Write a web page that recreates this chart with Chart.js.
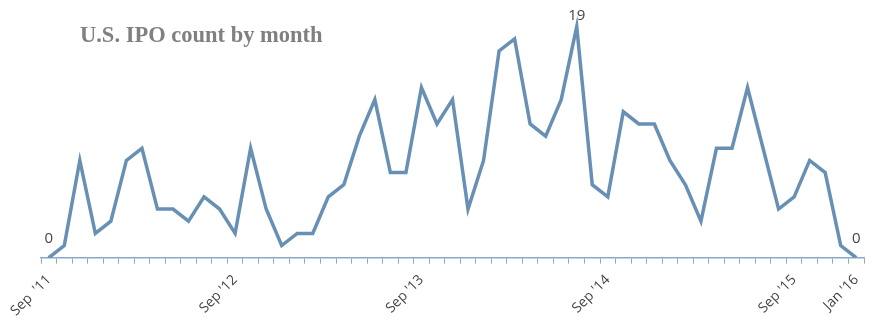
<!DOCTYPE html>
<html>
<head>
<meta charset="utf-8">
<title>U.S. IPO count by month</title>
<script src="https://cdn.jsdelivr.net/npm/chart.js@4/dist/chart.umd.min.js"></script>
<style>
  html, body { margin: 0; padding: 0; background: #ffffff; }
  #wrap { position: relative; width: 883px; height: 333px; }
  canvas { display: block; }
</style>
</head>
<body>
<div id="wrap"><canvas id="ipo" width="883" height="333"></canvas></div>
<script>
// Monthly categories, Sep 2011 through Jan 2016
const months = [
  "Sep  '11", "Oct '11", "Nov '11", "Dec '11",
  "Jan '12", "Feb '12", "Mar '12", "Apr '12", "May '12", "Jun '12", "Jul '12", "Aug '12", "Sep '12", "Oct '12", "Nov '12", "Dec '12",
  "Jan '13", "Feb '13", "Mar '13", "Apr '13", "May '13", "Jun '13", "Jul '13", "Aug '13", "Sep '13", "Oct '13", "Nov '13", "Dec '13",
  "Jan '14", "Feb '14", "Mar '14", "Apr '14", "May '14", "Jun '14", "Jul '14", "Aug '14", "Sep '14", "Oct '14", "Nov '14", "Dec '14",
  "Jan '15", "Feb '15", "Mar '15", "Apr '15", "May '15", "Jun '15", "Jul '15", "Aug '15", "Sep '15", "Oct '15", "Nov '15", "Dec '15",
  "Jan '16"
];

// Number of U.S. IPOs priced in each month
const ipoCounts = [
  0, 1, 8, 2, 3, 8, 9, 4, 4, 3,
  5, 4, 2, 9, 4, 1, 2, 2, 5, 6,
  10, 13, 7, 7, 14, 11, 13, 4, 8, 17,
  18, 11, 10, 13, 19, 6, 5, 12, 11, 11,
  8, 6, 3, 9, 9, 14, 9, 4, 5, 8,
  7, 1, 0
];

// Axis labels that are shown along the bottom
const shownTicks = ["Sep  '11", "Sep '12", "Sep '13", "Sep '14", "Sep '15", "Jan '16"];

// Points that carry a value label
const labelledMonths = ["Sep  '11", "Jul '14", "Jan '16"];

const lineColor = '#6790b4';
const axisColor = '#86abc9';
const textColor = '#454545';

// Value labels above selected points
const valueLabels = {
  id: 'valueLabels',
  afterDatasetsDraw(chart, args, opts) {
    const ctx = chart.ctx;
    const meta = chart.getDatasetMeta(0);
    ctx.save();
    ctx.font = opts.font;
    ctx.fillStyle = opts.color;
    ctx.textAlign = 'center';
    ctx.textBaseline = 'bottom';
    labelledMonths.forEach(m => {
      const i = months.indexOf(m);
      const pt = meta.data[i];
      const v = ipoCounts[i];
      const gap = v === 0 ? opts.gapLow : opts.gapHigh;
      ctx.fillText(String(v), pt.x, pt.y - gap);
    });
    ctx.restore();
  }
};

// Chart heading drawn inside the plot
const heading = {
  id: 'heading',
  afterDraw(chart, args, opts) {
    const ctx = chart.ctx;
    ctx.save();
    ctx.font = opts.font;
    ctx.fillStyle = opts.color;
    ctx.textAlign = 'left';
    ctx.textBaseline = 'alphabetic';
    ctx.fillText(opts.text, opts.x, opts.y);
    ctx.restore();
  }
};

new Chart(document.getElementById('ipo'), {
  type: 'line',
  data: {
    labels: months,
    datasets: [{
      data: ipoCounts,
      borderColor: lineColor,
      borderWidth: 3.5,
      pointRadius: 0,
      tension: 0,
      fill: false
    }]
  },
  options: {
    responsive: false,
    devicePixelRatio: 1,
    animation: false,
    layout: { padding: { left: 41, right: 19, top: 14.5, bottom: 0 } },
    plugins: {
      legend: { display: false },
      tooltip: { enabled: false },
      title: { display: false },
      valueLabels: { font: '15px "Open Sans", sans-serif', color: textColor, gapLow: 11, gapHigh: 3 },
      heading: {
        text: 'U.S. IPO count by month',
        font: 'bold 22.5px "Liberation Serif", serif',
        color: '#808080',
        x: 80,
        y: 42
      }
    },
    scales: {
      x: {
        offset: true,
        grid: {
          offset: true,
          drawOnChartArea: false,
          drawTicks: true,
          tickLength: 6,
          color: axisColor,
          lineWidth: 1
        },
        border: { color: axisColor, width: 1.5 },
        ticks: {
          autoSkip: false,
          maxRotation: 45,
          minRotation: 45,
          padding: 8,
          color: textColor,
          font: { family: '"Open Sans", sans-serif', size: 14 },
          callback(value) {
            const lab = this.getLabelForValue(value);
            return shownTicks.includes(lab) ? lab : '';
          }
        },
        afterFit(scale) { scale.height = 75.3; }
      },
      y: { display: false, min: 0, max: 20 }
    }
  },
  plugins: [valueLabels, heading]
});
</script>
</body>
</html>
